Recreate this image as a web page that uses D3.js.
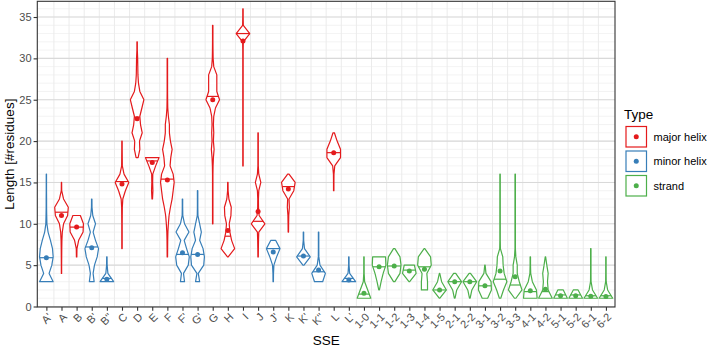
<!DOCTYPE html>
<html>
<head>
<meta charset="utf-8">
<script src="https://cdn.jsdelivr.net/npm/d3@7"></script>
<style>
  body { margin: 0; background: #fff; }
  text { font-family: "Liberation Sans", Arial, sans-serif; }
</style>
</head>
<body>
<div id="chart"></div>
<script>
// categories (SSE) and their type
var sse = ["A'", "A", "B", "B'", "B''", "C", "D", "E", "F", "F'", "G'", "G", "H", "I", "J", "J'", "K", "K'", "K''", "L", "L'",
           "1-0", "1-1", "1-2", "1-3", "1-4", "1-5", "2-1", "2-2", "3-1", "3-2", "3-3", "4-1", "4-2", "5-1", "5-2", "6-1", "6-2"]
var sseType = ["minor helix", "major helix", "major helix", "minor helix", "minor helix", "major helix", "major helix",
               "major helix", "major helix", "minor helix", "minor helix", "major helix", "major helix", "major helix",
               "major helix", "minor helix", "major helix", "minor helix", "minor helix", "major helix", "minor helix",
               "strand", "strand", "strand", "strand", "strand", "strand", "strand", "strand", "strand", "strand",
               "strand", "strand", "strand", "strand", "strand", "strand", "strand"]

// shortest length in each violin (residues)
var minLen = [3, 4, 6, 3, 3, 7, 18, 13, 6, 3, 3, 10, 6, 17, 6, 3, 9, 5, 3, 14, 3,
              1, 2, 3, 3, 2, 1, 1, 1, 1, 1, 1, 1, 1, 1, 1, 1, 1]

// relative violin width at each length, from minLen upwards
var violinWidth = [
  [1, .4, .8, 1, .9, .6, .25, .08, .05, .03, .03, .02, .02, .02],
  [.02, .02, .03, .04, .06, .12, .3, .9, 1, .3, .03, .02],
  [.03, .05, .3, .95, 1, .55],
  [.35, .2, .4, .8, 1, .55, .2, .55, .15, .04, .03],
  [1, .15, .04, .03],
  [.03, .03, .03, .03, .04, .05, .12, .5, 1, .3, .05, .04, .03, .03],
  [.15, .4, .35, .75, .5, .4, .7, 1, .4, .2, .12, .1, .08, .03, .03],
  [.04, .1, .06, .08, .5, 1],
  [.03, .04, .05, .08, .15, .25, .45, .7, .85, 1, .85, .4, .5, .7, .45, .3, .3, .15, .06, .04, .03, .03, .03, .03, .03],
  [.3, .15, .85, 1, .6, .25, .95, .3, .05, .03, .03],
  [.3, .1, .9, 1, .8, .3, .55, .3, .05, .03, .03, .03],
  [.03, .03, .03, .03, .03, .03, .03, .05, .1, .2, .1, .15, .1, .15, .4, 1, .6, .6, .6, .15, .06, .04, .03, .03, .03],
  [.05, 1, .55, .3, .2, .45, .5, .15, .04, .03],
  [.03, .03, .03, .03, .03, .03, .03, .03, .03, .03, .03, .03, .03, .03, .03, .05, 1, .05, .03, .03],
  [.03, .04, .06, .1, 1, .15, .06, .05, .1, .4, .1, .03, .03, .03, .03, .03],
  [.03, .04, .1, .5, 1, .35],
  [.03, .04, .06, .15, .1, .8, 1, .1],
  [.08, 1, .15, .03, .03],
  [.6, 1, .2, .04, .03, .03, .03],
  [.03, .03, .04, .15, 1, 1, .5, .1],
  [1, .12, .03, .03],
  [1, .55, .1, .03, .03, .03],
  [.05, .3, .6, 1, .95],
  [.1, .85, 1, .85, .1],
  [.05, 1, .75],
  [.45, .45, .35, 1, .9, .05],
  [.05, 1, .3, .03],
  [.05, .3, 1, .15],
  [.05, .3, 1, .1],
  [.4, .95, .9, .15, .03],
  [.1, .5, 1, .6, .45, .4, .05, .03, .03, .03, .03, .03, .03, .03, .03, .03],
  [.1, 1, .6, .3, .3, .1, .03, .03, .03, .03, .03, .03, .03, .03, .03, .03],
  [1, .9, .3, .06, .03, .03],
  [1, .4, .3, .4, .2, .03],
  [1, .4],
  [1, .35],
  [1, .25, .04, .03, .03, .03, .03],
  [1, .25, .04, .03, .03, .03]
]

var meanLen = [5.9, 11.0, 9.6, 7.1, 3.3, 14.8, 22.7, 17.4, 15.3, 6.5, 6.3, 25.0, 9.2, 32.1, 11.5, 6.6, 14.2, 6.1, 4.4, 18.6, 3.2,
               1.6, 4.8, 4.9, 4.3, 4.5, 2.0, 3.0, 3.0, 2.5, 4.3, 3.6, 1.9, 2.1, 1.3, 1.3, 1.25, 1.2]
var medianLen = [5.9, 11.4, 9.6, 7.2, 3.4, 15.1, 22.9, 17.6, 15.4, 6.3, 6.3, 25.4, 8.5, 33.0, 10.3, 7.0, 14.5, 6.1, 4.2, 18.6, 3.4,
                 1.5, 4.8, 4.9, 4.4, 4.8, 2.0, 3.0, 3.0, 2.5, 3.3, 2.6, 1.8, 1.8, 1.4, 1.4, 1.3, 1.3]

var types = ["major helix", "minor helix", "strand"]
var yTicks = [0, 5, 10, 15, 20, 25, 30, 35]

var margin = {top: 1.3, right: 93, bottom: 42, left: 37.3}
var width = 708 - margin.left - margin.right,
    height = 349 - margin.top - margin.bottom

var svg = d3.select("#chart").append("svg")
    .attr("width", 708)
    .attr("height", 349)

var g = svg.append("g")
    .attr("transform", "translate(" + margin.left + "," + margin.top + ")")

var xPositionScale = d3.scalePoint().domain(sse).range([0, width]).padding(0.6)
var yPositionScale = d3.scaleLinear().domain([-0.06, 36.9]).range([height, 0])
var colourScale = d3.scaleOrdinal().domain(types).range(["#E41A1C", "#377EB8", "#4DAF4A"])

var step = xPositionScale.step()
var halfWidth = step * 0.45

// grid
g.selectAll(".minor-y").data(d3.range(0, 37))
  .enter().append("line")
  .attr("x1", 0).attr("x2", width)
  .attr("y1", d => yPositionScale(d)).attr("y2", d => yPositionScale(d))
  .attr("stroke", "#ebebeb").attr("stroke-width", 0.6)

g.selectAll(".grid-x").data(d3.range(1, sse.length))
  .enter().append("line")
  .attr("x1", d => xPositionScale(sse[d]) - step / 2).attr("x2", d => xPositionScale(sse[d]) - step / 2)
  .attr("y1", 0).attr("y2", height)
  .attr("stroke", "#ebebeb").attr("stroke-width", 1)

g.selectAll(".major-y").data(yTicks)
  .enter().append("line")
  .attr("x1", 0).attr("x2", width)
  .attr("y1", d => yPositionScale(d)).attr("y2", d => yPositionScale(d))
  .attr("stroke", "#d9d9d9").attr("stroke-width", 1.1)

// violins
var rows = sse.map(function(name, i) {
  var pts = violinWidth[i].map(function(w, k) { return {len: minLen[i] + k, w: w} })
  return {name: name, type: sseType[i], pts: pts, mean: meanLen[i], median: medianLen[i]}
})

function widthAt(pts, v) {
  for (var k = 0; k < pts.length - 1; k++) {
    if (v >= pts[k].len && v <= pts[k + 1].len) {
      var t = (v - pts[k].len) / (pts[k + 1].len - pts[k].len)
      return pts[k].w + t * (pts[k + 1].w - pts[k].w)
    }
  }
  return pts[0].w
}

var area = d3.area()
  .y(d => yPositionScale(d.len))

var violins = g.selectAll(".violin").data(rows)
  .enter().append("g")
  .attr("class", "violin")
  .attr("transform", d => "translate(" + xPositionScale(d.name) + ",0)")

violins.append("path")
  .attr("d", function(d) {
    return area.x0(p => -p.w * halfWidth).x1(p => p.w * halfWidth)(d.pts) + ""
  })
  .attr("fill", "white")
  .attr("stroke", d => colourScale(d.type))
  .attr("stroke-width", 1.2)
  .attr("stroke-linejoin", "round")

violins.append("line")
  .attr("x1", d => -widthAt(d.pts, d.median) * halfWidth)
  .attr("x2", d => widthAt(d.pts, d.median) * halfWidth)
  .attr("y1", d => yPositionScale(d.median))
  .attr("y2", d => yPositionScale(d.median))
  .attr("stroke", d => colourScale(d.type))
  .attr("stroke-width", 1.2)

violins.append("circle")
  .attr("cy", d => yPositionScale(d.mean))
  .attr("r", 2.5)
  .attr("fill", d => colourScale(d.type))

// panel border
g.append("rect")
  .attr("width", width).attr("height", height)
  .attr("fill", "none").attr("stroke", "#333333").attr("stroke-width", 1.1)

// axes
var yAxis = d3.axisLeft(yPositionScale).tickValues(yTicks).tickSize(3.7).tickPadding(2)
var yAxisG = g.append("g").attr("class", "axis y-axis").call(yAxis)
var xAxis = d3.axisBottom(xPositionScale).tickSize(3.7).tickPadding(2)
var xAxisG = g.append("g").attr("class", "axis x-axis")
  .attr("transform", "translate(0," + height + ")")
  .call(xAxis)

svg.selectAll(".axis .domain").remove()
svg.selectAll(".axis line").attr("stroke", "#333333").attr("stroke-width", 1.1)
svg.selectAll(".axis text").attr("fill", "#4d4d4d").style("font-size", "11px")

xAxisG.selectAll("text")
  .attr("text-anchor", "end")
  .attr("dy", "0.35em")
  .attr("transform", "translate(3,8) rotate(-45)")
  .attr("y", 0).attr("x", 0)

// axis titles
svg.append("text")
  .attr("x", margin.left + width / 2).attr("y", 345)
  .attr("text-anchor", "middle")
  .style("font-size", "13.5px")
  .text("SSE")

svg.append("text")
  .attr("transform", "translate(14," + (margin.top + height / 2) + ") rotate(-90)")
  .attr("text-anchor", "middle")
  .style("font-size", "13.5px")
  .text("Length [#residues]")

// legend
var legend = svg.append("g").attr("transform", "translate(624,124.5)")
legend.append("text")
  .attr("x", 0).attr("y", -6)
  .style("font-size", "13.5px")
  .text("Type")

var keys = legend.selectAll(".key").data(types)
  .enter().append("g")
  .attr("transform", (d, i) => "translate(0," + i * 24.5 + ")")

keys.append("rect")
  .attr("x", 2).attr("y", 2).attr("width", 20.5).attr("height", 20.5)
  .attr("fill", "white")
  .attr("stroke", d => colourScale(d))
  .attr("stroke-width", 1.2)

keys.append("circle")
  .attr("cx", 12.25).attr("cy", 12.25).attr("r", 2.5)
  .attr("fill", d => colourScale(d))

keys.append("text")
  .attr("x", 29.5).attr("y", 12.25).attr("dy", "0.35em")
  .style("font-size", "11px")
  .attr("fill", "#000")
  .text(d => d)
</script>
</body>
</html>
